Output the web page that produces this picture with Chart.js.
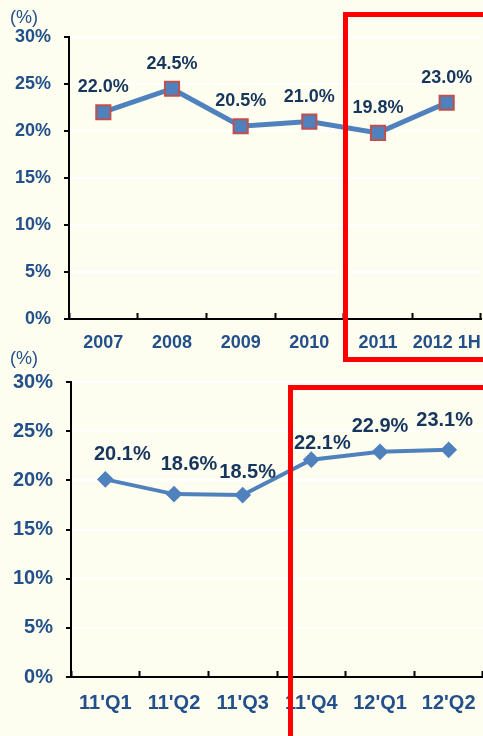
<!DOCTYPE html>
<html>
<head>
<meta charset="utf-8">
<script src="https://cdn.jsdelivr.net/npm/chart.js@4"></script>
<style>
  body { margin: 0; background: #fefef0; width: 483px; height: 736px; overflow: hidden; position: relative; }
  canvas { position: absolute; left: 0; }
  #top { top: 0; }
  #bottom { top: 340px; }
  .box { position: absolute; border: 5px solid #ff0000; box-sizing: border-box; }
</style>
</head>
<body>
<canvas id="top" width="483" height="360"></canvas>
<canvas id="bottom" width="483" height="396"></canvas>
<div class="box" style="left:343px; top:12px; width:200px; height:350px;"></div>
<div class="box" style="left:288px; top:385px; width:250px; height:400px;"></div>
<script>
// yearly figures
const years = ["2007", "2008", "2009", "2010", "2011", "2012 1H"];
const yearValues = [22.0, 24.5, 20.5, 21.0, 19.8, 23.0];
// quarterly figures
const quarters = ["11'Q1", "11'Q2", "11'Q3", "11'Q4", "12'Q1", "12'Q2"];
const quarterValues = [20.1, 18.6, 18.5, 22.1, 22.9, 23.1];
const yTicks = [0, 5, 10, 15, 20, 25, 30];

const FONT = "'Liberation Sans', Arial, sans-serif";
const tickColor = "#23508a";
const labelColor = "#17365d";
const lineColor = "#4f81bd";

// draws the value labels above the points and the (%) unit text
const labelPlugin = {
  id: "valueLabels",
  afterDatasetsDraw(chart, args, opts) {
    const ctx = chart.ctx;
    const meta = chart.getDatasetMeta(0);
    ctx.save();
    ctx.font = "bold " + opts.size + "px " + FONT;
    ctx.fillStyle = labelColor;
    ctx.textAlign = "center";
    ctx.textBaseline = "middle";
    meta.data.forEach(function (pt, i) {
      let v = chart.data.datasets[0].data[i];
      let dx = opts.dx ? opts.dx[i] : 0;
      let dy = opts.dy ? opts.dy[i] : -25;
      ctx.fillText(v.toFixed(1) + "%", pt.x + dx, pt.y + dy);
    });
    ctx.font = "18px " + FONT;
    ctx.fillStyle = tickColor;
    ctx.textAlign = "left";
    ctx.fillText("(%)", 10, opts.unitY);
    ctx.restore();
  },
};

function makeChart(id, labels, values, cfg) {
  new Chart(id, {
    type: "line",
    data: {
      labels: labels,
      datasets: [
        {
          data: values,
          borderColor: lineColor,
          borderWidth: cfg.lineWidth,
          backgroundColor: lineColor,
          pointStyle: cfg.pointStyle,
          pointRadius: cfg.pointRadius,
          pointBorderColor: cfg.pointBorder,
          pointBorderWidth: 2,
          pointBackgroundColor: lineColor,
          tension: 0,
        },
      ],
    },
    options: {
      responsive: false,
      animation: false,
      layout: {
        autoPadding: false,
        padding: { top: cfg.padTop, right: cfg.padRight, left: 0, bottom: 0 },
      },
      plugins: {
        legend: { display: false },
        tooltip: { enabled: false },
        valueLabels: { size: cfg.labelSize, dx: cfg.labelDx, dy: cfg.labelDy, unitY: cfg.unitY },
      },
      scales: {
        x: {
          offset: true,
          grid: {
            offset: true,
            drawOnChartArea: false,
            tickColor: "#000",
            tickLength: -6,
            tickWidth: 2,
          },
          border: { color: "#000", width: 2 },
          ticks: {
            color: tickColor,
            padding: cfg.xPad,
            maxRotation: 0,
            autoSkip: false,
            font: { family: FONT, size: cfg.tickSize, weight: "bold" },
          },
          afterFit: function (scale) {
            scale.height = cfg.xHeight;
            scale.paddingLeft = 0;
            scale.paddingRight = 0;
          },
        },
        y: {
          min: 0,
          max: 30,
          afterBuildTicks: function (scale) {
            scale.ticks = yTicks.map(function (v) {
              return { value: v };
            });
          },
          grid: {
            color: "#ffffff",
            lineWidth: 2,
            tickColor: "#000",
            tickLength: 5,
            tickWidth: 2,
          },
          border: { color: "#000", width: 2 },
          ticks: {
            color: tickColor,
            padding: 13,
            font: { family: FONT, size: cfg.tickSize, weight: "bold" },
            callback: function (v) {
              return v + "%";
            },
          },
          afterFit: function (scale) {
            scale.width = cfg.yWidth;
          },
        },
      },
    },
    plugins: [labelPlugin],
  });
}

makeChart("top", years, yearValues, {
  lineWidth: 5,
  pointStyle: "rect",
  pointRadius: 10,
  pointBorder: "#c0504d",
  padTop: 37,
  padRight: 2,
  xHeight: 41,
  yWidth: 69,
  xPad: 19,
  tickSize: 18,
  labelSize: 18,
  unitY: 18,
});

makeChart("bottom", quarters, quarterValues, {
  lineWidth: 4,
  pointStyle: "rectRot",
  pointRadius: 7,
  pointBorder: lineColor,
  padTop: 42,
  padRight: 0,
  xHeight: 59,
  yWidth: 71,
  xPad: 20,
  tickSize: 20,
  labelSize: 20,
  // label nudges as placed in the original
  labelDx: [17, 15, 5, 11, 0, -4],
  labelDy: [-25, -30, -23, -16, -25, -29],
  unitY: 19,
});
</script>
</body>
</html>
